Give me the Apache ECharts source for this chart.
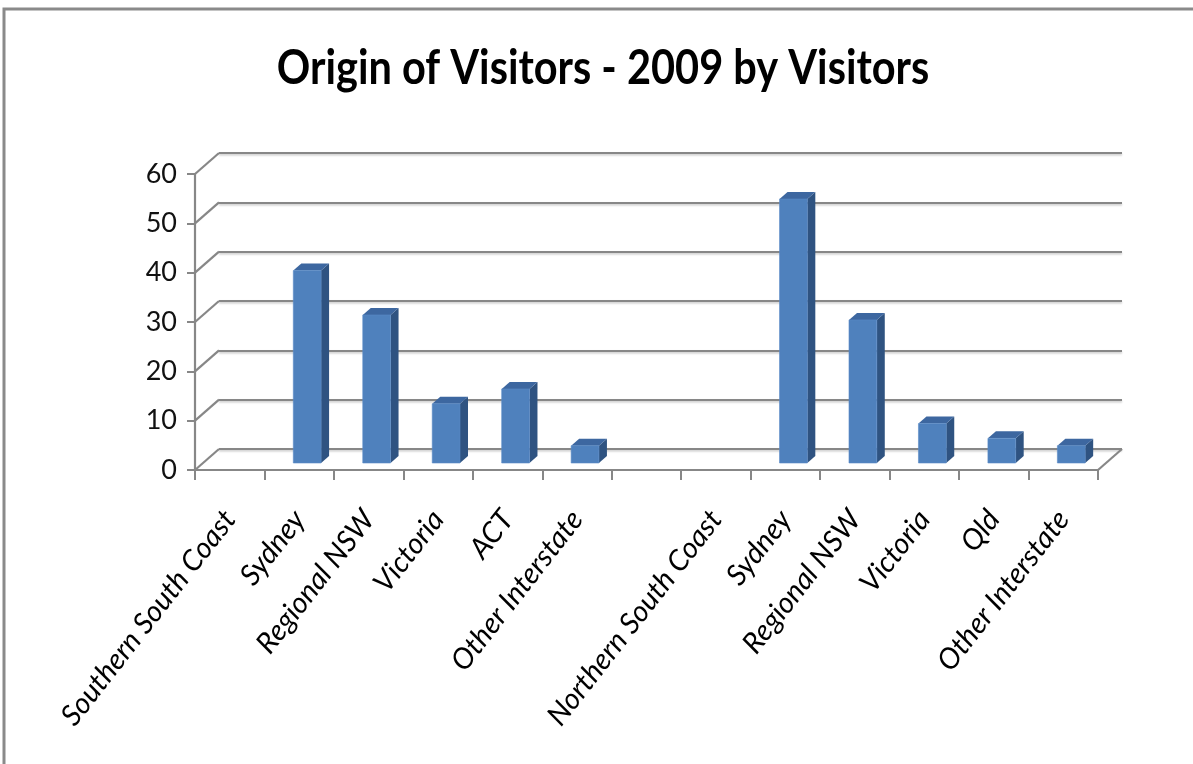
<!DOCTYPE html>
<html>
<head>
<meta charset="utf-8">
<style>
  html, body { margin: 0; padding: 0; background: #ffffff; }
  #chart { width: 1193px; height: 764px; }
</style>
<script src="https://cdn.jsdelivr.net/npm/echarts@6/dist/echarts.min.js"></script>
</head>
<body>
<div id="chart"></div>
<script>
// Visitor origin shares, grouped by destination region (blank slot separates the two groups)
const categories = [
  'Southern South Coast', 'Sydney', 'Regional NSW', 'Victoria', 'ACT', 'Other Interstate',
  '',
  'Northern South Coast', 'Sydney', 'Regional NSW', 'Victoria', 'Qld', 'Other Interstate'
];
const visitors = [null, 39, 30, 12, 15, 3.5, null, null, 53.5, 29, 8, 5, 3.5];
const valueTicks = [0, 10, 20, 30, 40, 50, 60];
const titleText = 'Origin of Visitors - 2009 by Visitors';

// Oblique depth of the pseudo-3D box (back wall offset from the front plane, px)
const DEPTH_X = 24;
const DEPTH_Y = -21;

const GRID_LINE = '#878787';
const FACE_FRONT = '#4f81bd';
const FACE_SIDE = '#2f5381';
const FACE_TOP = '#3d67a0';

const front = { left: 195, right: 95, top: 174, bottom: 294 };
const back = {
  left: front.left + DEPTH_X,
  right: front.right - DEPTH_X,
  top: front.top + DEPTH_Y,
  bottom: front.bottom - DEPTH_Y
};

const chart = echarts.init(document.getElementById('chart'), null, { renderer: 'canvas' });

// Column drawn as front, side and top faces, placed in the middle third of the depth
function renderColumn(params, api) {
  const v = api.value(1);
  if (v == null || isNaN(v)) return null;
  const idx = api.value(0);
  const base = api.coord([idx, 0]);
  const top = api.coord([idx, v]);
  const band = api.size([1, 0])[0];
  const w = band * 0.4;
  const ox = DEPTH_X / 3, oy = DEPTH_Y / 3;   // front face sits one third back
  const dx = DEPTH_X / 3, dy = DEPTH_Y / 3;   // column depth
  const x1 = base[0] - w / 2 + ox, x2 = x1 + w;
  const yb = base[1] + oy, yt = top[1] + oy;
  return {
    type: 'group',
    children: [
      { type: 'polygon', shape: { points: [[x2, yb], [x2 + dx, yb + dy], [x2 + dx, yt + dy], [x2, yt]] },
        style: { fill: FACE_SIDE } },
      { type: 'polygon', shape: { points: [[x1, yt], [x2, yt], [x2 + dx, yt + dy], [x1 + dx, yt + dy]] },
        style: { fill: FACE_TOP } },
      { type: 'rect', shape: { x: x1, y: yt, width: w, height: yb - yt },
        style: { fill: FACE_FRONT, stroke: '#5b8cc7', lineWidth: 0.6 } }
    ]
  };
}

// Diagonal edges joining the front axis to the back wall (side = -1 left edge, 1 right edge)
function renderDepthEdge(params, api) {
  const p = api.coord([api.value(0), api.value(1)]);
  const band = api.size([1, 0])[0];
  const x0 = p[0] + api.value(2) * band / 2;
  return {
    type: 'line',
    shape: { x1: x0, y1: p[1], x2: x0 + DEPTH_X, y2: p[1] + DEPTH_Y },
    style: { stroke: GRID_LINE, lineWidth: 2.2 }
  };
}

const edgeData = valueTicks.map(v => [0, v, -1]).concat([[categories.length - 1, 0, 1]]);

const option = {
  backgroundColor: '#ffffff',
  animation: false,
  grid: [
    { left: front.left, right: front.right, top: front.top, bottom: front.bottom },
    { left: back.left, right: back.right, top: back.top, bottom: back.bottom }
  ],
  xAxis: [
    {
      type: 'category', gridIndex: 0, data: categories, boundaryGap: true,
      axisLine: { show: true, lineStyle: { color: GRID_LINE, width: 2.2 } },
      axisTick: { show: true, interval: 0, length: 10, lineStyle: { color: GRID_LINE, width: 2 } },
      axisLabel: {
        interval: 0, rotate: 52, margin: 44,
        fontFamily: 'Lato', fontStyle: 'italic', fontSize: 29, color: '#000000'
      },
      splitLine: { show: false }
    },
    {
      type: 'category', gridIndex: 1, data: categories, boundaryGap: true, show: false
    }
  ],
  yAxis: [
    {
      type: 'value', gridIndex: 0, min: 0, max: 60, interval: 10,
      axisLine: { show: true, lineStyle: { color: GRID_LINE, width: 2.2 } },
      axisTick: { show: true, length: 8, lineStyle: { color: GRID_LINE, width: 2 } },
      axisLabel: { margin: 18, fontFamily: "'Liberation Sans Narrow', Lato", fontSize: 27, color: '#111111' },
      splitLine: { show: false }
    },
    {
      type: 'value', gridIndex: 1, min: 0, max: 60, interval: 10,
      axisLine: { show: false }, axisTick: { show: false }, axisLabel: { show: false },
      splitLine: { show: true, lineStyle: { color: GRID_LINE, width: 2.2,
        shadowColor: 'rgba(0,0,0,0.22)', shadowBlur: 2, shadowOffsetY: 1.5 } }
    }
  ],
  series: [
    {
      name: 'depthEdges', type: 'custom', xAxisIndex: 0, yAxisIndex: 0,
      renderItem: renderDepthEdge, data: edgeData, encode: { x: 0, y: 1 }, z: 3, silent: true
    },
    {
      name: 'Visitors', type: 'custom', xAxisIndex: 0, yAxisIndex: 0,
      renderItem: renderColumn,
      data: visitors.map((v, i) => [i, v]),
      encode: { x: 0, y: 1 }, z: 5
    }
  ],
  graphic: [
    {
      type: 'polyline', z: 0, silent: true,
      shape: { points: [[4, 780], [4, 9], [1200, 9]] },
      style: { stroke: '#8a8a8a', lineWidth: 3, fill: null }
    },
    {
      type: 'text', x: 603, y: 69, scaleX: 0.865, z: 10,
      style: {
        text: titleText, fontFamily: 'Lato', fontWeight: 'bold', fontSize: 48,
        fill: '#000000', align: 'center', verticalAlign: 'middle'
      }
    }
  ]
};

chart.setOption(option);
</script>
</body>
</html>
